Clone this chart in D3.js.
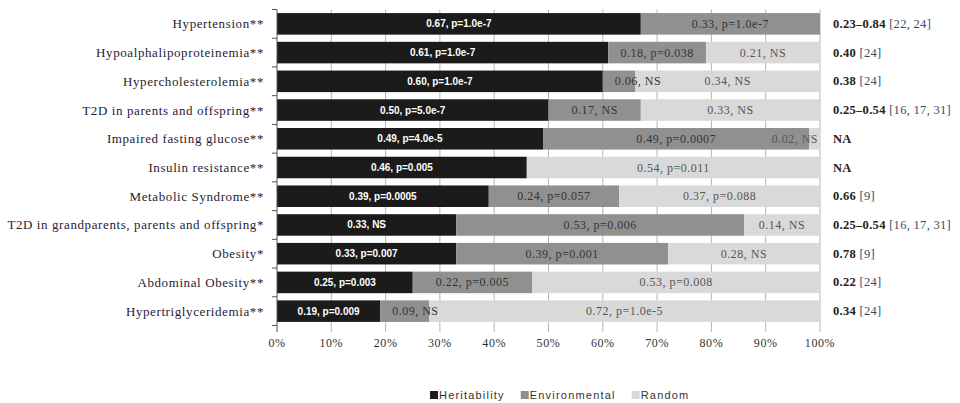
<!DOCTYPE html>
<html>
<head>
<meta charset="utf-8">
<script src="https://cdn.jsdelivr.net/npm/d3@7"></script>
<style>
  html, body { margin: 0; padding: 0; background: #fff; }
  svg { display: block; }
</style>
</head>
<body>
<svg id="chart" width="960" height="403"></svg>
<script>
// Traits, ordered top to bottom
const categories = [
  "Hypertension**",
  "Hypoalphalipoproteinemia**",
  "Hypercholesterolemia**",
  "T2D in parents and offspring**",
  "Impaired fasting glucose**",
  "Insulin resistance**",
  "Metabolic Syndrome**",
  "T2D in grandparents, parents and offspring*",
  "Obesity*",
  "Abdominal Obesity**",
  "Hypertriglyceridemia**"
];

// Variance components (shares of total variance)
const heritability  = [0.67, 0.61, 0.60, 0.50, 0.49, 0.46, 0.39, 0.33, 0.33, 0.25, 0.19];
const environmental = [0.33, 0.18, 0.06, 0.17, 0.49, 0.00, 0.24, 0.53, 0.39, 0.22, 0.09];
const random        = [0.00, 0.21, 0.34, 0.33, 0.02, 0.54, 0.37, 0.14, 0.28, 0.53, 0.72];

// Significance of each component
const heritabilityP  = ["p=1.0e-7", "p=1.0e-7", "p=1.0e-7", "p=5.0e-7", "p=4.0e-5", "p=0.005", "p=0.0005", "NS", "p=0.007", "p=0.003", "p=0.009"];
const environmentalP = ["p=1.0e-7", "p=0.038", "NS", "NS", "p=0.0007", "", "p=0.057", "p=0.006", "p=0.001", "p=0.005", "NS"];
const randomP        = ["", "NS", "NS", "NS", "NS", "p=0.011", "p=0.088", "NS", "NS", "p=0.008", "p=1.0e-5"];

// Published heritability estimates and references
const publishedEstimate = ["0.23\u20130.84", "0.40", "0.38", "0.25\u20130.54", "NA", "NA", "0.66", "0.25\u20130.54", "0.78", "0.22", "0.34"];
const publishedRefs     = ["[22, 24]", "[24]", "[24]", "[16, 17, 31]", "", "", "[9]", "[16, 17, 31]", "[9]", "[24]", "[24]"];

const axisTicks = [0, 0.1, 0.2, 0.3, 0.4, 0.5, 0.6, 0.7, 0.8, 0.9, 1.0];

const seriesNames = ["Heritability", "Environmental", "Random"];
const seriesColors = ["#1b1b1b", "#909090", "#d9d9d9"];
const labelColors = ["#ffffff", "#333333", "#555555"];

const serif = "'Liberation Serif', 'Times New Roman', serif";
const sans = "'Liberation Sans', Arial, sans-serif";

const svg = d3.select("#chart");

const x = d3.scaleLinear().domain([0, 1]).range([277, 820]);
const y = d3.scaleBand().domain(categories).range([9.5, 325.5]).paddingInner(0.25).paddingOuter(0.125);

// Vertical gridlines (extend a little below the plot as tick marks)
svg.append("g")
  .selectAll("line")
  .data(axisTicks.slice(1))
  .join("line")
  .attr("x1", d => x(d)).attr("x2", d => x(d))
  .attr("y1", 9.5).attr("y2", 332)
  .attr("stroke", "#b5b5b5")
  .attr("stroke-width", 1);

// Stack the three components
const rows = categories.map((c, i) => ({
  category: c,
  Heritability: heritability[i],
  Environmental: environmental[i],
  Random: random[i],
  p: [heritabilityP[i], environmentalP[i], randomP[i]]
}));
const stack = d3.stack().keys(seriesNames);
const layers = stack(rows);

const fmt = d3.format(".2f");
const barsG = svg.append("g");
const labelsG = svg.append("g");

layers.forEach((layer, si) => {
  const segs = layer.filter(d => d[1] - d[0] > 0);
  barsG.append("g")
    .selectAll("rect")
    .data(segs)
    .join("rect")
    .attr("x", d => x(d[0]))
    .attr("width", d => x(d[1]) - x(d[0]))
    .attr("y", d => y(d.data.category))
    .attr("height", y.bandwidth())
    .attr("fill", seriesColors[si]);

  labelsG.append("g")
    .selectAll("text")
    .data(segs)
    .join("text")
    .attr("font-family", si === 0 ? sans : serif)
    .attr("font-size", si === 0 ? 10 : 12)
    .attr("letter-spacing", si === 0 ? 0 : 0.5)
    .attr("font-weight", si === 0 ? "bold" : "normal")
    .attr("fill", labelColors[si])
    .attr("text-anchor", "middle")
    .attr("dominant-baseline", "central")
    .attr("y", d => y(d.data.category) + y.bandwidth() / 2)
    .text(d => fmt(d[1] - d[0]) + ", " + d.data.p[si])
    .attr("x", function (d) {
      // centre in the segment, but keep narrow-segment labels clear of
      // the bar to the left and inside the 100% end
      const w = this.getComputedTextLength();
      const cx = (x(d[0]) + x(d[1])) / 2;
      const lo = si === 0 ? cx : x(d[0]) + 12 + w / 2;
      return Math.min(Math.max(cx, lo), x(1) - 2 - w / 2);
    });
});

// Category axis: line and ticks at band boundaries
const axisG = svg.append("g");
axisG.append("line")
  .attr("x1", x(0)).attr("x2", x(0))
  .attr("y1", 9.5).attr("y2", 332)
  .attr("stroke", "#555").attr("stroke-width", 1);
const boundaries = categories.map(c => y(c) - y.step() * y.paddingInner() / 2)
  .concat([y(categories[categories.length - 1]) + y.bandwidth() + y.step() * y.paddingInner() / 2]);
axisG.selectAll("line.tick")
  .data(boundaries)
  .join("line")
  .attr("class", "tick")
  .attr("x1", x(0) - 5).attr("x2", x(0))
  .attr("y1", d => d).attr("y2", d => d)
  .attr("stroke", "#555");

axisG.selectAll("text.cat")
  .data(categories)
  .join("text")
  .attr("class", "cat")
  .attr("x", 264)
  .attr("y", d => y(d) + y.bandwidth() / 2)
  .attr("text-anchor", "end")
  .attr("dominant-baseline", "central")
  .attr("font-family", serif)
  .attr("font-size", 13)
  .attr("letter-spacing", 0.6)
  .attr("fill", "#1e2233")
  .text(d => d);

// Percentage axis labels
svg.append("g")
  .selectAll("text")
  .data(axisTicks)
  .join("text")
  .attr("x", d => x(d))
  .attr("y", 343)
  .attr("text-anchor", "middle")
  .attr("dominant-baseline", "central")
  .attr("font-family", serif)
  .attr("font-size", 12)
  .attr("letter-spacing", 0.6)
  .attr("fill", "#333")
  .text(d => d3.format(".0%")(d));

// Published estimates at the right
const right = svg.append("g");
categories.forEach((c, i) => {
  const t = right.append("text")
    .attr("x", 833)
    .attr("y", y(c) + y.bandwidth() / 2)
    .attr("dominant-baseline", "central")
    .attr("font-family", serif)
    .attr("font-size", 12.5)
    .attr("letter-spacing", 0.3);
  t.append("tspan").attr("fill", "#222").attr("font-weight", "bold").text(publishedEstimate[i]);
  if (publishedRefs[i]) {
    t.append("tspan").attr("fill", "#3a4a6a").text(" " + publishedRefs[i]);
  }
});

// Legend
const legend = svg.append("g").attr("transform", "translate(0,395)");
let lx = 430;
seriesNames.forEach((name, i) => {
  legend.append("rect")
    .attr("x", lx).attr("y", -4).attr("width", 8).attr("height", 8)
    .attr("fill", seriesColors[i]);
  const t = legend.append("text")
    .attr("x", lx + 9)
    .attr("y", 0)
    .attr("dominant-baseline", "central")
    .attr("font-family", sans)
    .attr("font-size", 11)
    .attr("letter-spacing", 1.2)
    .attr("fill", "#333")
    .text(name);
  lx += 9 + t.node().getComputedTextLength() + 16;
});
</script>
</body>
</html>
